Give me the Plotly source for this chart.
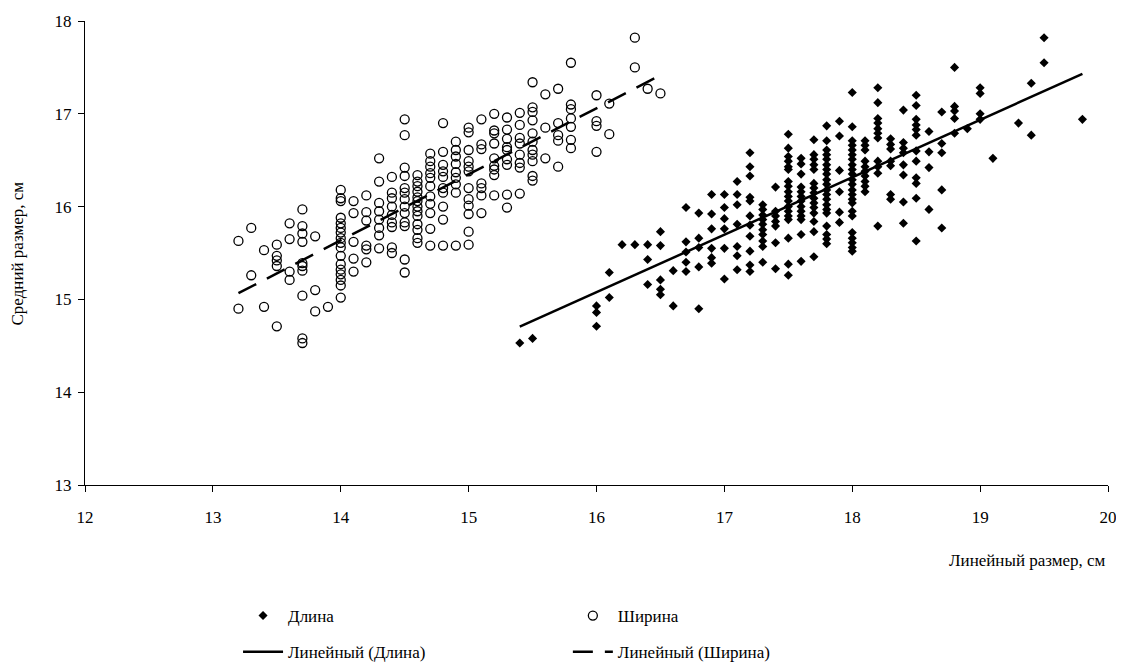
import numpy as np
import plotly.graph_objects as go

# ---- Ширина (open circles): x columns and the y values observed at each ----
width_x = [13.2, 13.3, 13.4, 13.5, 13.6, 13.7, 13.8, 13.9, 14.0, 14.1, 14.2, 14.3,
           14.4, 14.5, 14.6, 14.7, 14.8, 14.9, 15.0, 15.1, 15.2, 15.3, 15.4, 15.5,
           15.6, 15.7, 15.8, 16.0, 16.1, 16.3, 16.4, 16.5]
width_y = [
    [15.63, 14.90],
    [15.77, 15.26],
    [15.53, 14.92],
    [15.59, 15.47, 15.42, 15.36, 14.71],
    [15.82, 15.65, 15.30, 15.21],
    [15.97, 15.79, 15.71, 15.62, 15.39, 15.36, 15.31, 15.04, 14.58, 14.53],
    [15.68, 15.10, 14.87],
    [14.92],
    [16.18, 16.09, 16.06, 15.88, 15.82, 15.77, 15.72, 15.66, 15.61, 15.56, 15.47,
     15.38, 15.32, 15.27, 15.21, 15.15, 15.02],
    [16.06, 15.93, 15.62, 15.44, 15.30],
    [16.12, 15.94, 15.85, 15.58, 15.54, 15.40],
    [16.52, 16.27, 16.04, 15.95, 15.86, 15.77, 15.69, 15.55],
    [16.32, 16.15, 16.09, 16.00, 15.91, 15.83, 15.78, 15.56, 15.50],
    [16.94, 16.77, 16.42, 16.33, 16.20, 16.15, 16.08, 16.00, 15.93, 15.83, 15.79,
     15.43, 15.29],
    [16.34, 16.27, 16.22, 16.16, 16.10, 16.06, 16.00, 15.95, 15.90, 15.81, 15.75,
     15.66, 15.61],
    [16.57, 16.49, 16.43, 16.36, 16.31, 16.22, 16.11, 16.03, 15.93, 15.76, 15.58],
    [16.90, 16.59, 16.45, 16.38, 16.32, 16.20, 16.15, 16.00, 15.86, 15.58],
    [16.70, 16.61, 16.54, 16.46, 16.37, 16.31, 16.24, 16.15, 15.58],
    [16.85, 16.80, 16.61, 16.49, 16.43, 16.38, 16.20, 16.08, 16.01, 15.92, 15.73, 15.59],
    [16.94, 16.67, 16.62, 16.25, 16.20, 16.12, 15.93],
    [17.00, 16.82, 16.79, 16.68, 16.52, 16.44, 16.40, 16.34, 16.12],
    [16.96, 16.83, 16.73, 16.64, 16.61, 16.51, 16.45, 16.13, 15.99],
    [17.01, 16.88, 16.74, 16.68, 16.56, 16.47, 16.42, 16.14],
    [17.34, 17.07, 17.02, 16.93, 16.79, 16.70, 16.61, 16.56, 16.49, 16.33, 16.28],
    [17.21, 16.85, 16.52],
    [17.27, 16.90, 16.77, 16.71, 16.43],
    [17.55, 17.10, 17.05, 16.95, 16.86, 16.72, 16.63],
    [17.20, 16.92, 16.87, 16.59],
    [17.11, 16.78],
    [17.82, 17.50],
    [17.27],
    [17.22],
]

# ---- Длина (filled diamonds) ----
length_x = [15.4, 15.5, 16.0, 16.1, 16.2, 16.3, 16.4, 16.5, 16.6, 16.7, 16.8, 16.9,
            17.0, 17.1, 17.2, 17.3, 17.4, 17.5, 17.6, 17.7, 17.8, 17.9, 18.0, 18.1,
            18.2, 18.3, 18.4, 18.5, 18.6, 18.7, 18.8, 18.9, 19.0, 19.1, 19.3, 19.4,
            19.5, 19.8]
length_y = [
    [14.53],
    [14.58],
    [14.93, 14.86, 14.71],
    [15.29, 15.02],
    [15.59],
    [15.59],
    [15.59, 15.43, 15.16],
    [15.73, 15.58, 15.21, 15.11, 15.05],
    [15.31, 14.93],
    [15.99, 15.62, 15.51, 15.40, 15.30],
    [15.93, 15.66, 15.56, 15.35, 14.90],
    [16.13, 15.92, 15.76, 15.55, 15.45, 15.39],
    [16.13, 15.99, 15.87, 15.76, 15.55, 15.22],
    [16.27, 16.13, 16.02, 15.81, 15.57, 15.47, 15.32],
    [16.58, 16.43, 16.33, 16.10, 16.06, 15.90, 15.80, 15.68, 15.52, 15.37, 15.30],
    [16.02, 15.97, 15.91, 15.86, 15.81, 15.75, 15.70, 15.63, 15.57, 15.40],
    [16.21, 15.95, 15.90, 15.84, 15.79, 15.61, 15.33],
    [16.78, 16.63, 16.54, 16.49, 16.43, 16.40, 16.27, 16.22, 16.16, 16.11, 16.06,
     16.00, 15.95, 15.90, 15.86, 15.66, 15.38, 15.26],
    [16.52, 16.46, 16.35, 16.21, 16.16, 16.11, 16.06, 16.00, 15.95, 15.90, 15.86,
     15.70, 15.41],
    [16.72, 16.56, 16.51, 16.45, 16.40, 16.25, 16.20, 16.15, 16.09, 16.04, 15.99,
     15.93, 15.84, 15.73, 15.46],
    [16.87, 16.71, 16.61, 16.56, 16.51, 16.45, 16.40, 16.35, 16.29, 16.24, 16.18,
     16.13, 16.08, 16.02, 15.97, 15.93, 15.79, 15.70, 15.65, 15.60],
    [16.92, 16.76, 16.39, 16.16, 15.94, 15.83],
    [17.23, 16.86, 16.71, 16.66, 16.61, 16.56, 16.51, 16.45, 16.40, 16.35, 16.29,
     16.24, 16.18, 16.13, 16.08, 16.04, 15.95, 15.90, 15.72, 15.66, 15.61, 15.56, 15.52],
    [16.71, 16.66, 16.61, 16.49, 16.43, 16.38, 16.33, 16.27, 16.22, 16.16],
    [17.28, 17.12, 16.95, 16.90, 16.84, 16.79, 16.74, 16.49, 16.43, 16.36, 15.79],
    [16.73, 16.67, 16.62, 16.49, 16.44, 16.13, 16.08],
    [17.04, 16.69, 16.63, 16.58, 16.45, 16.34, 16.05, 15.82],
    [17.20, 17.09, 16.94, 16.88, 16.83, 16.77, 16.60, 16.49, 16.31, 16.25, 16.09, 15.63],
    [16.81, 16.59, 16.42, 15.97],
    [17.02, 16.68, 16.58, 16.18, 15.77],
    [17.50, 17.08, 17.03, 16.95, 16.79],
    [16.84],
    [17.28, 17.22, 17.00, 16.94],
    [16.52],
    [16.90],
    [17.33, 16.77],
    [17.82, 17.55],
    [16.94],
]

x_ticks = [12, 13, 14, 15, 16, 17, 18, 19, 20]
y_ticks = [13, 14, 15, 16, 17, 18]


def expand(xs, ys):
    px, py = [], []
    for xv, col in zip(xs, ys):
        for yv in col:
            px.append(xv)
            py.append(yv)
    return np.array(px), np.array(py)


lx, ly = expand(length_x, length_y)
wx, wy = expand(width_x, width_y)

FONT = "Liberation Serif"
FS = 17
W, H = 1116, 654  # page body has an 8px margin, so the figure is drawn at (8, 8)

fig = go.Figure()

fig.add_trace(go.Scatter(
    x=lx, y=ly, mode="markers", name="Длина",
    marker=dict(symbol="diamond", size=7, color="black"),
    legend="legend", legendgroup="a", legendrank=1))

fig.add_trace(go.Scatter(
    x=wx, y=wy, mode="markers", name="Ширина",
    marker=dict(symbol="circle-open", size=9, color="black", line=dict(width=1.3, color="black")),
    legend="legend2", legendgroup="b", legendrank=1))

# linear trend lines (least squares fit of each series)
kl = np.polyfit(lx, ly, 1)
xl = np.array([lx.min(), lx.max()])
fig.add_trace(go.Scatter(
    x=xl, y=np.polyval(kl, xl), mode="lines", name="Линейный (Длина)",
    line=dict(color="black", width=2.5),
    legend="legend", legendgroup="c", legendrank=2))

kw = np.polyfit(wx, wy, 1)
xw = np.array([wx.min(), wx.max()])
fig.add_trace(go.Scatter(
    x=xw, y=np.polyval(kw, xw), mode="lines", name="Линейный (Ширина)",
    line=dict(color="black", width=2.5, dash="20px,12px"),
    legend="legend2", legendgroup="d", legendrank=2))

legend_common = dict(
    orientation="v", xanchor="left", yanchor="top",
    xref="paper", yref="container",
    font=dict(family=FONT, size=FS, color="black"),
    itemwidth=40, tracegroupgap=11, bgcolor="rgba(0,0,0,0)",
    itemclick=False, itemdoubleclick=False,
)

fig.update_layout(
    template="none",
    width=W, height=H,
    margin=dict(l=77, r=16, t=13, b=177),
    paper_bgcolor="white", plot_bgcolor="white",
    font=dict(family=FONT, size=FS, color="black"),
    showlegend=True,
    legend=dict(x=0.1496, y=1 - 590 / H, **legend_common),
    legend2=dict(x=0.472, y=1 - 590 / H, **legend_common),
    xaxis=dict(
        range=[12, 20], tickvals=x_ticks, ticktext=[str(v) for v in x_ticks],
        showgrid=False, zeroline=False, showline=True, linecolor="black", linewidth=1,
        ticks="outside", ticklen=6, tickcolor="black", ticklabelstandoff=11,
        automargin=False, mirror=False,
        tickfont=dict(family=FONT, size=FS, color="black"),
    ),
    yaxis=dict(
        range=[13, 18], tickvals=y_ticks, ticktext=[str(v) for v in y_ticks],
        showgrid=False, zeroline=False, showline=True, linecolor="black", linewidth=1,
        ticks="outside", ticklen=6, tickcolor="black", ticklabelstandoff=3,
        automargin=False, mirror=False,
        tickfont=dict(family=FONT, size=FS, color="black"),
    ),
    annotations=[
        dict(text="Линейный размер, см", xref="paper", yref="paper",
             x=1.0, y=-0.162, xanchor="right", yanchor="middle", showarrow=False,
             font=dict(family=FONT, size=FS, color="black")),
        dict(text="Средний размер, см", xref="paper", yref="paper",
             x=-0.066, y=0.5, xanchor="center", yanchor="middle", showarrow=False,
             textangle=-90, font=dict(family=FONT, size=FS, color="black")),
    ],
)

fig.write_html("out.html")
